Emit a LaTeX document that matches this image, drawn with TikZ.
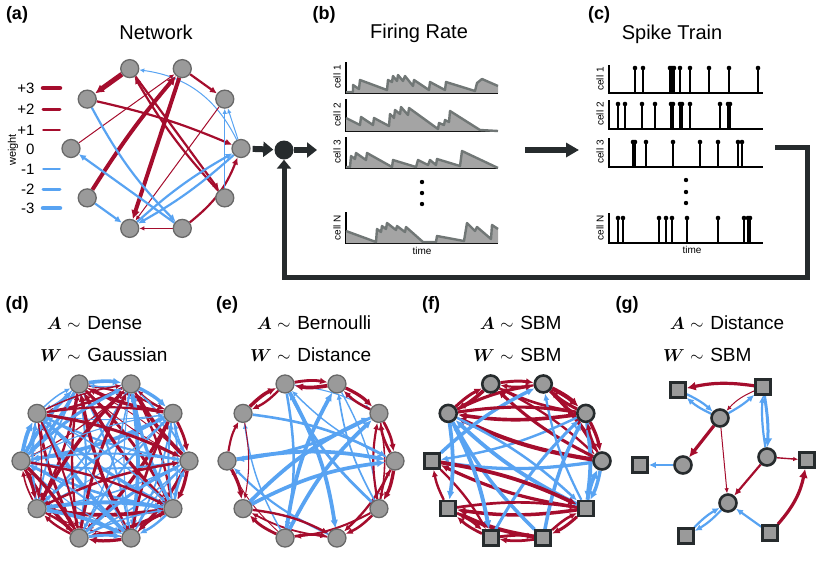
\documentclass[tikz,border=0pt]{standalone}
\usepackage{fontspec}
\setmainfont{Liberation Sans}
\usepackage{bm}
\usetikzlibrary{arrows.meta,calc}
\pgfdeclarelayer{bg}
\pgfsetlayers{bg,main}
\definecolor{ered}{HTML}{A50D2D}
\definecolor{eblue}{HTML}{58A3F2}
\definecolor{ngray}{HTML}{9A9A9A}
\definecolor{nbord}{HTML}{686868}
\definecolor{dark}{HTML}{262B2D}
\definecolor{tline}{HTML}{717776}
\definecolor{tfill}{HTML}{A4A4A4}
\tikzset{
  nd/.style={circle,fill=ngray,draw=nbord,line width=1.3pt,minimum size=18pt,inner sep=0pt},
  ndc/.style={circle,fill=ngray,draw=dark,line width=2.6pt,minimum size=17pt,inner sep=0pt},
  ndsq/.style={rectangle,fill=ngray,draw=dark,line width=2.6pt,minimum size=15pt,inner sep=0pt},
  hubnode/.style={circle,fill=dark,minimum size=19pt,inner sep=0pt},
  r1/.style={ered,line width=1pt,-{Latex[length=5pt,width=4.5pt]}},
  r2/.style={ered,line width=2.2pt,-{Latex[length=7pt,width=6.5pt]}},
  r3/.style={ered,line width=4pt,-{Latex[length=9pt,width=9pt]}},
  b1/.style={eblue,line width=1pt,-{Latex[length=5pt,width=4.5pt]}},
  b2/.style={eblue,line width=2.2pt,-{Latex[length=7pt,width=6.5pt]}},
  b3/.style={eblue,line width=4pt,-{Latex[length=9pt,width=9pt]}},
  bigarrow/.style={dark,line width=6pt,-{Triangle[length=10pt,width=15pt]}},
  panellabel/.style={font=\bfseries\fontsize{18}{20}\selectfont},
  ptitle/.style={font=\fontsize{20}{22}\selectfont},
  mtitle/.style={font=\fontsize{19}{22}\selectfont,inner sep=0pt},
  small/.style={font=\fontsize{10}{11}\selectfont},
  legtxt/.style={font=\fontsize{15}{17}\selectfont,anchor=east},
  axisline/.style={black,line width=1.8pt},
}
\newcommand{\frtrace}[3]{%
  \begin{scope}[shift={(#1,#2)},yscale=-1]
    \fill[tfill] (0,0) -- #3 -- (152,0) -- cycle;
    \draw[tline,line width=2.4pt,line join=round] #3;
  \end{scope}}
\newcommand{\spikerow}[3]{%
  \foreach \s in {#3}{%
    \draw[black,line width=1.5pt] (#1+\s,#2) -- (#1+\s,#2-25);
    \fill[black] (#1+\s,#2-25) circle (2.3);
  }}
\begin{document}
\begin{tikzpicture}[x=1pt,y=-1pt]
\useasboundingbox (0,0) rectangle (830,566);

% ---------------- panel labels and titles
\node[panellabel] at (17,15) {(a)};
\node[panellabel] at (324,15) {(b)};
\node[panellabel] at (599,15) {(c)};
\node[panellabel] at (17,305) {(d)};
\node[panellabel] at (227,305) {(e)};
\node[panellabel] at (431,305) {(f)};
\node[panellabel] at (627,305) {(g)};
\node[ptitle] at (156,32) {Network};
\node[ptitle] at (419,33) {Firing Rate};
\node[ptitle] at (672,34) {Spike Train};

% ---------------- legend
\foreach \t/\y in {+3/88,+2/109,+1/130,0/149,-1/169,-2/189,-3/208}{
  \node[legtxt] at (38,\y) {\t};
}
\node[small,rotate=90,font=\fontsize{11}{12}\selectfont] at (13,150) {weight};
\draw[ered,line width=4.5pt,line cap=round] (43,88) -- (60,88);
\draw[ered,line width=3pt,line cap=round] (43,109) -- (60,109);
\draw[ered,line width=1.5pt,line cap=round] (43,130) -- (60,130);
\draw[eblue,line width=1.5pt,line cap=round] (43,169) -- (60,169);
\draw[eblue,line width=3pt,line cap=round] (43,189) -- (60,189);
\draw[eblue,line width=4.5pt,line cap=round] (43,208) -- (60,208);

% ---------------- panel (a) network
\begin{scope}[shift={(156,148.5)}]
\foreach \k in {0,...,9}{
  \node[nd] (a\k) at ({85*cos(36*\k-108)},{84*sin(36*\k-108)}) {};
}
\end{scope}
\begin{pgfonlayer}{bg}
\draw[r3,line width=5pt] (a0) to (a9);
\draw[b1] (a3) to[bend right=28] (a0);
\draw[b1] (a3) to (a2);
\draw[r2] (a1) to (a2);
\draw[r2] (a9) to[bend left=5] (a3);
\draw[r1] (a8) to (a1);
\draw[r3] (a7) to[bend left=4] (a1);
\draw[r3] (a1) to (a6);
\draw[r2] (a0) to (a4);
\draw[r2] (a4) to[bend left=6] (a0);
\draw[r1] (a2) to (a6);
\draw[b2] (a9) to[bend right=8] (a5);
\draw[b2] (a5) to (a8);
\draw[b2] (a7) to (a6);
\draw[b2] (a3) to[bend left=6] (a6);
\draw[b2] (a6) to[bend left=6] (a3);
\draw[r1] (a5) to (a6);
\draw[r2] (a5) to[bend right=15] (a3);
\draw[b1] (a4) to (a2);
\end{pgfonlayer}

% ---------------- hub and loop
\node[hubnode] (hub) at (284,150) {};
\coordinate (bin) at (317,150);
\coordinate (bout) at (525,150);
\coordinate (cin) at (579,150);
\coordinate (cout) at (775,147);
\draw[bigarrow,shorten <=2pt,shorten >=1pt] (a3) -- (hub);
\draw[bigarrow] (hub) -- (bin);
\draw[bigarrow,-{Triangle[length=13pt,width=14pt]}] (bout) -- (cin);
\draw[dark,line width=5pt,line join=miter,-{Triangle[length=9pt,width=14pt]}]
  (cout) -- (807,147) -- (807,277) -| (hub);

% ---------------- panel (b) firing rates
\foreach \tp/\bs in {62/93,99/131,137/168,212/243}{
  \draw[axisline] (346,\tp) -- (346,\bs) -- (498,\bs);
}
\frtrace{346}{93}{(0,1) -- (7,1) -- (7,8) -- (13,4) -- (14,13) -- (41,3) -- (42,13) -- (46,11) -- (47,17) -- (51,12) -- (52,18) -- (57,12) -- (59,17) -- (67,7) -- (68,13) -- (83,3) -- (84,11) -- (99,3) -- (100,11) -- (129,2) -- (131,10) -- (136,14) -- (152,7)}
\frtrace{346}{131}{(0,13) -- (14,6) -- (15,14) -- (27,6) -- (28,13) -- (43,5) -- (44,17) -- (48,13) -- (49,21) -- (54,17) -- (55,24) -- (62,16) -- (63,23) -- (92,2) -- (93,8) -- (98,6) -- (99,11) -- (103,9) -- (104,20) -- (134,1) -- (152,0)}
\frtrace{346}{168}{(0,1) -- (4,1) -- (5,12) -- (9,9) -- (10,15) -- (20,8) -- (21,15) -- (46,1) -- (47,8) -- (70,1) -- (72,8) -- (82,3) -- (84,8) -- (90,3) -- (91,9) -- (114,2) -- (116,17) -- (152,0)}
\frtrace{346}{243}{(0,12) -- (30,1) -- (31,14) -- (35,11) -- (36,17) -- (40,14) -- (41,20) -- (50,13) -- (51,17) -- (59,11) -- (60,16) -- (77,1) -- (90,1) -- (91,7) -- (118,2) -- (121,20) -- (129,12) -- (131,16) -- (145,4) -- (146,18) -- (152,14)}
\node[small,rotate=90] at (337,77) {cell 1};
\node[small,rotate=90] at (337,115) {cell 2};
\node[small,rotate=90] at (337,152) {cell 3};
\node[small,rotate=90] at (337,228) {cell N};
\node[small] at (422,251) {time};
\foreach \y in {182,193,204}{\fill[black] (422,\y) circle (2.2);}

% ---------------- panel (c) spike trains
\foreach \tp/\bs in {65/93,100/129,138/167,213/243}{
  \draw[axisline] (609,\tp) -- (609,\bs) -- (763,\bs);
}
\spikerow{609}{93}{26,34,61,63,65,71,81,100,120,149}
\spikerow{609}{129}{9,16,33,46,62,64,71,73,81,111,119,121}
\spikerow{609}{167}{24,26,37,64,91,109,129,133}
\spikerow{609}{243}{9,14,50,57,63,78,109,135,139,141}
\node[small,rotate=90] at (600,79) {cell 1};
\node[small,rotate=90] at (600,114) {cell 2};
\node[small,rotate=90] at (600,152) {cell 3};
\node[small,rotate=90] at (600,228) {cell N};
\node[small] at (692,250) {time};
\foreach \y in {180,192,203}{\fill[black] (686,\y) circle (2.2);}

% ---------------- math titles
\foreach \xa/\ta/\tw in {62/Dense/Gaussian,272/Bernoulli/Distance,495/SBM/SBM,685/Distance/SBM}{
  \node[mtitle,anchor=base east] at (\xa,329) {$\bm{A}$};
  \node[mtitle,anchor=base west] at (\xa+5,329) {$\sim$\hspace{0.35em}\ta};
  \node[mtitle,anchor=base east] at (\xa,361) {$\bm{W}$};
  \node[mtitle,anchor=base west] at (\xa+5,361) {$\sim$\hspace{0.35em}\tw};
}

% ---------------- panel (d) dense
\begin{scope}[shift={(105,461)}]
\foreach \k in {0,...,9}{
  \node[nd] (d\k) at ({84*cos(36*\k-108)},{81*sin(36*\k-108)}) {};
}
\end{scope}
\pgfmathsetseed{3}
\begin{pgfonlayer}{bg}
\foreach \i in {0,...,9}{\foreach \j in {0,...,9}{\ifnum\i=\j\else
  \pgfmathsetmacro{\w}{rand}
  \pgfmathtruncatemacro{\pos}{\w>0}
  \pgfmathsetmacro{\lw}{min(0.9+3*abs(\w),4)}
  \pgfmathsetmacro{\al}{4+1.2*\lw}
  \ifnum\pos=1 \def\col{ered}\else\def\col{eblue}\fi
  \draw[color=\col,line width=\lw pt,-{Latex[length=\al pt,width=0.9*\al pt]}] (d\i) to[bend left=8] (d\j);
\fi}}
\end{pgfonlayer}

% ---------------- panel (e) bernoulli / distance
\begin{scope}[shift={(311,461)}]
\foreach \k in {0,...,9}{
  \node[nd] (e\k) at ({84*cos(36*\k-108)},{81*sin(36*\k-108)}) {};
}
\end{scope}
\pgfmathsetseed{5}
\begin{pgfonlayer}{bg}
\foreach \i in {0,...,9}{\foreach \j in {0,...,9}{\ifnum\i=\j\else
  \pgfmathtruncatemacro{\dd}{min(abs(\i-\j),10-abs(\i-\j))}
  \pgfmathsetmacro{\r}{rnd}
  \pgfmathtruncatemacro{\keep}{(\dd==1)*(\r<0.8)+(\dd==2)*(\r<0.45)+(\dd==3)*(\r<0.3)+(\dd>3)*(\r<0.38)}
  \ifnum\keep>0
    \pgfmathsetmacro{\w}{3.4-1.4*\dd+0.9*rand}
    \pgfmathtruncatemacro{\pos}{\w>0}
    \pgfmathsetmacro{\lw}{min(0.9+1.0*abs(\w),3.8)}
    \pgfmathsetmacro{\al}{4+1.2*\lw}
    \ifnum\pos=1 \def\col{ered}\else\def\col{eblue}\fi
    \draw[color=\col,line width=\lw pt,-{Latex[length=\al pt,width=0.9*\al pt]}] (e\i) to[bend left=10] (e\j);
  \fi
\fi}}
\end{pgfonlayer}

% ---------------- panel (f) SBM / SBM
\begin{scope}[shift={(517,461)}]
\foreach \k in {0,...,9}{
  \pgfmathtruncatemacro{\sq}{and(\k>=4,\k<=8)}
  \ifnum\sq=1
    \node[ndsq] (f\k) at ({85*cos(36*\k-108)},{81*sin(36*\k-108)}) {};
  \else
    \node[ndc] (f\k) at ({85*cos(36*\k-108)},{81*sin(36*\k-108)}) {};
  \fi
}
\end{scope}
\pgfmathsetseed{23}
\begin{pgfonlayer}{bg}
\foreach \i in {0,...,9}{\foreach \j in {0,...,9}{\ifnum\i=\j\else
  \pgfmathtruncatemacro{\gi}{and(\i>=4,\i<=8)}
  \pgfmathtruncatemacro{\gj}{and(\j>=4,\j<=8)}
  \pgfmathsetmacro{\r}{rnd}
  \ifnum\gi=\gj
    \pgfmathtruncatemacro{\keep}{\r<0.75}
    \def\col{ered}
  \else
    \pgfmathtruncatemacro{\keep}{\r<0.28}
    \def\col{eblue}
  \fi
  \ifnum\keep=1
    \pgfmathsetmacro{\lw}{2.2+2.0*rnd}
    \pgfmathsetmacro{\al}{4+1.2*\lw}
    \draw[color=\col,line width=\lw pt,-{Latex[length=\al pt,width=0.9*\al pt]}] (f\i) to[bend left=8] (f\j);
  \fi
\fi}}
\end{pgfonlayer}

% ---------------- panel (g) distance / SBM
\node[ndsq] (gs1) at (678,390) {};
\node[ndsq] (gs2) at (763,387) {};
\node[ndsq] (gs3) at (807,460) {};
\node[ndsq] (gs4) at (640,465) {};
\node[ndsq] (gs5) at (686,536) {};
\node[ndsq] (gs6) at (770,533) {};
\node[ndc] (gc1) at (720,418) {};
\node[ndc] (gc2) at (683,465) {};
\node[ndc] (gc3) at (767,457) {};
\node[ndc] (gc4) at (728,503) {};
\begin{pgfonlayer}{bg}
\draw[r3,line width=3.2pt] (gs2) to[bend right=10] (gs1);
\draw[r1] (gs2) to[bend right=12] (gc1);
\draw[b2] (gs1) to[bend left=8] (gc1);
\draw[b2] (gc1) to[bend left=8] (gs1);
\draw[b2] (gc1) to[bend right=6] (gs2);
\draw[b3,line width=3pt] (gs2) to[bend left=6] (gc3);
\draw[b2] (gc3) to[bend left=6] (gs2);
\draw[r3,line width=3.2pt] (gc1) to (gc2);
\draw[r1] (gc1) to (gc4);
\draw[b2] (gc2) to (gs4);
\draw[r1,line width=1.4pt] (gc3) to (gs3);
\draw[r2] (gc3) to (gc4);
\draw[b2] (gc4) to[bend left=8] (gs5);
\draw[b2] (gs5) to[bend left=8] (gc4);
\draw[b2] (gs6) to (gc4);
\draw[r3,line width=3.2pt] (gs6) to[bend right=15] (gs3);
\end{pgfonlayer}
\end{tikzpicture}
\end{document}
